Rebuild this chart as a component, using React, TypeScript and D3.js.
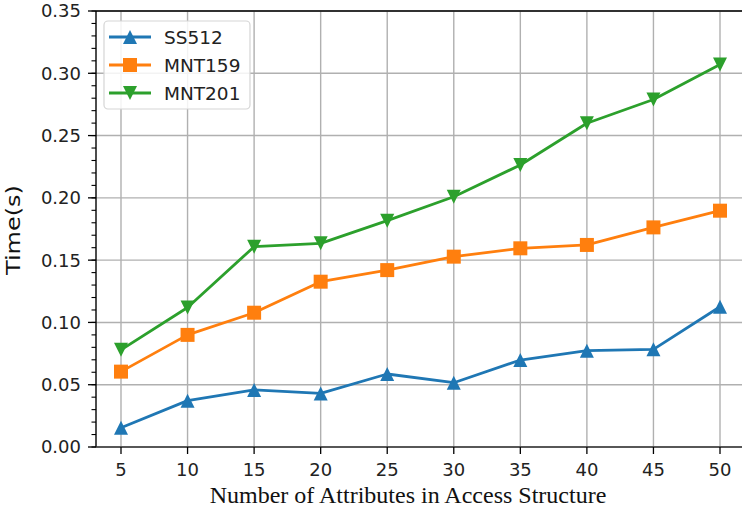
import React, { useEffect, useRef } from 'react';
import * as d3 from 'd3';

const attributes = [5, 10, 15, 20, 25, 30, 35, 40, 45, 50];
const ss512 = [0.0155, 0.0372, 0.0458, 0.043, 0.0586, 0.0516, 0.0698, 0.0773, 0.0784, 0.1126];
const mnt159 = [0.0605, 0.09, 0.1078, 0.1327, 0.142, 0.1528, 0.1595, 0.1622, 0.1763, 0.1897];
const mnt201 = [0.078, 0.112, 0.1608, 0.1635, 0.1817, 0.2009, 0.2264, 0.2599, 0.279, 0.307];
const seriesNames = ['SS512', 'MNT159', 'MNT201'];
const yTicks = [0, 0.05, 0.1, 0.15, 0.2, 0.25, 0.3, 0.35];

const colors = ['#1f77b4', '#ff7f0e', '#2ca02c'];
const markers = ['up', 'square', 'down'];

const markerPath = (kind, s) => {
  const h = s / 2;
  if (kind === 'up') return `M0,${-h}L${h},${h}L${-h},${h}Z`;
  if (kind === 'down') return `M0,${h}L${h},${-h}L${-h},${-h}Z`;
  return `M${-h},${-h}H${h}V${h}H${-h}Z`;
};

const LineChart = () => {
  const svgRef = useRef(null);

  useEffect(() => {
    const svg = d3.select(svgRef.current);
    svg.selectAll('*').remove();

    const width = 742;
    const height = 510;
    const left = 96, right = 745, top = 11, bottom = 447;

    svg.attr('width', width).attr('height', height);

    const x = d3.scaleLinear().domain([3.122, 51.878]).range([left, right]);
    const y = d3.scaleLinear().domain([0, 0.35]).range([bottom, top]);

    const sans = 'DejaVu Sans, sans-serif';

    // grid
    const grid = svg.append('g');
    grid.selectAll('.vgrid')
      .data(attributes)
      .enter().append('line')
      .attr('x1', d => x(d)).attr('x2', d => x(d))
      .attr('y1', top).attr('y2', bottom)
      .attr('stroke', '#b0b0b0')
      .attr('stroke-width', 1.4);
    grid.selectAll('.hgrid')
      .data(yTicks)
      .enter().append('line')
      .attr('x1', left).attr('x2', width)
      .attr('y1', d => y(d)).attr('y2', d => y(d))
      .attr('stroke', '#b0b0b0')
      .attr('stroke-width', 1.4);

    // lines + markers
    const data = [ss512, mnt159, mnt201];
    const line = d3.line()
      .x((d, i) => x(attributes[i]))
      .y(d => y(d));

    data.forEach((vals, k) => {
      svg.append('path')
        .attr('d', line(vals))
        .attr('fill', 'none')
        .attr('stroke', colors[k])
        .attr('stroke-width', 2.8)
        .attr('stroke-linejoin', 'round');
      svg.append('g').selectAll('path')
        .data(vals)
        .enter().append('path')
        .attr('transform', (d, i) => `translate(${x(attributes[i])},${y(d)})`)
        .attr('d', markerPath(markers[k], 14))
        .attr('fill', colors[k]);
    });

    // spines
    svg.append('line')
      .attr('x1', left).attr('x2', left).attr('y1', top).attr('y2', bottom)
      .attr('stroke', '#000').attr('stroke-width', 1.4);
    svg.append('line')
      .attr('x1', left).attr('x2', width).attr('y1', top).attr('y2', top)
      .attr('stroke', '#000').attr('stroke-width', 1.4);
    svg.append('line')
      .attr('x1', left).attr('x2', width).attr('y1', bottom).attr('y2', bottom)
      .attr('stroke', '#333').attr('stroke-width', 1.4);

    // y ticks
    const minor = d3.range(0, 36).map(i => i / 100);
    svg.append('g').selectAll('line')
      .data(minor)
      .enter().append('line')
      .attr('x1', left - 4.5).attr('x2', left)
      .attr('y1', d => y(d)).attr('y2', d => y(d))
      .attr('stroke', '#000').attr('stroke-width', 1.1);
    const yt = svg.append('g').selectAll('g')
      .data(yTicks)
      .enter().append('g')
      .attr('transform', d => `translate(0,${y(d)})`);
    yt.append('line')
      .attr('x1', left - 8).attr('x2', left)
      .attr('stroke', '#000').attr('stroke-width', 1.3);
    yt.append('text')
      .attr('x', left - 15)
      .attr('dy', '0.36em')
      .attr('text-anchor', 'end')
      .style('font-family', sans)
      .style('font-size', '18px')
      .style('fill', '#222')
      .text(d => d3.format('.2f')(d));

    // x ticks
    const xt = svg.append('g').selectAll('g')
      .data(attributes)
      .enter().append('g')
      .attr('transform', d => `translate(${x(d)},0)`);
    xt.append('line')
      .attr('y1', bottom).attr('y2', bottom + 7)
      .attr('stroke', '#000').attr('stroke-width', 1.3);
    xt.append('text')
      .attr('y', 475.5)
      .attr('text-anchor', 'middle')
      .style('font-family', sans)
      .style('font-size', '18px')
      .style('fill', '#222')
      .text(d => d);

    // axis labels
    svg.append('text')
      .attr('x', 408)
      .attr('y', 503)
      .attr('text-anchor', 'middle')
      .style('font-family', 'Liberation Serif, Times New Roman, serif')
      .style('font-size', '24px')
      .style('fill', '#111')
      .text('Number of Attributes in Access Structure');

    svg.append('text')
      .attr('transform', 'translate(20,230) rotate(-90)')
      .attr('text-anchor', 'middle')
      .attr('textLength', 90)
      .attr('lengthAdjust', 'spacingAndGlyphs')
      .style('font-family', sans)
      .style('font-size', '19px')
      .style('fill', '#111')
      .text('Time(s)');

    // legend
    const legend = svg.append('g');
    legend.append('rect')
      .attr('x', 104).attr('y', 21)
      .attr('width', 146).attr('height', 88)
      .attr('rx', 4)
      .attr('fill', 'white').attr('fill-opacity', 0.85)
      .attr('stroke', '#d5d5d5').attr('stroke-width', 1.2);
    const items = legend.selectAll('.legend-item')
      .data(seriesNames)
      .enter().append('g')
      .attr('transform', (d, i) => `translate(0,${37 + i * 28})`);
    items.append('line')
      .attr('x1', 109).attr('x2', 151)
      .attr('stroke', (d, i) => colors[i])
      .attr('stroke-width', 2.8);
    items.append('path')
      .attr('transform', 'translate(130,0)')
      .attr('d', (d, i) => markerPath(markers[i], 14))
      .attr('fill', (d, i) => colors[i]);
    items.append('text')
      .attr('x', 164)
      .attr('dy', '0.36em')
      .style('font-family', sans)
      .style('font-size', '18.5px')
      .style('fill', '#222')
      .text(d => d);
  }, []);

  return <svg ref={svgRef} style={{ position: 'absolute', left: 0, top: 0 }}></svg>;
};

export default function App() {
  return <LineChart />;
}
